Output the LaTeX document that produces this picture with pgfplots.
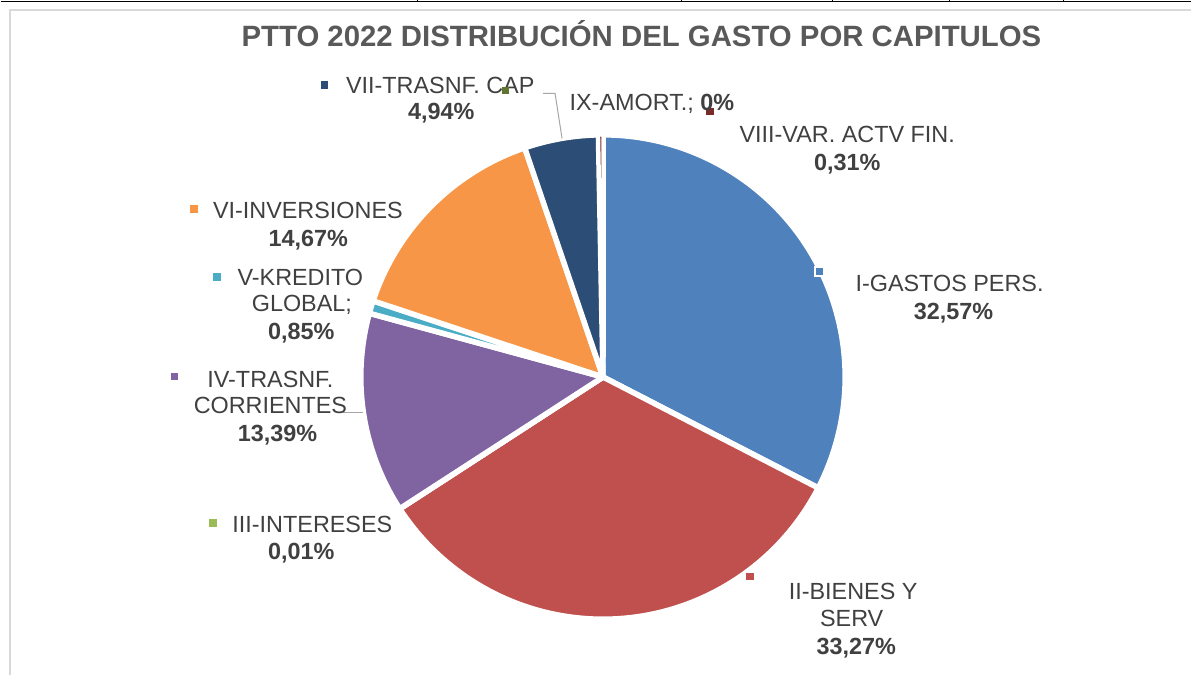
\documentclass[border=0pt]{standalone}
\usepackage{pgfplots}
\pgfplotsset{compat=1.18}
\usepackage{fontspec}
\setmainfont{Liberation Sans}
\definecolor{cI}{HTML}{4F81BD}
\definecolor{cII}{HTML}{C0504D}
\definecolor{cIII}{HTML}{9BBB59}
\definecolor{cIV}{HTML}{8064A2}
\definecolor{cV}{HTML}{4BACC6}
\definecolor{cVI}{HTML}{F79646}
\definecolor{cVII}{HTML}{2C4D75}
\definecolor{cVIII}{HTML}{772C2A}
\definecolor{cIX}{HTML}{5F7530}
\definecolor{txt}{HTML}{404040}
\definecolor{ttl}{HTML}{595959}
\definecolor{frame}{HTML}{D9D9D9}
% percentages per chapter
\def\pI{32.57}\def\pII{33.27}\def\pIII{0.01}\def\pIV{13.39}\def\pV{0.85}
\def\pVI{14.67}\def\pVII{4.94}\def\pVIII{0.31}\def\pIX{0}
\pgfmathsetmacro\aO{90}
\pgfmathsetmacro\aA{\aO-3.6*\pI}
\pgfmathsetmacro\aB{\aA-3.6*\pII}
\pgfmathsetmacro\aC{\aB-3.6*\pIII}
\pgfmathsetmacro\aD{\aC-3.6*\pIV}
\pgfmathsetmacro\aE{\aD-3.6*\pV}
\pgfmathsetmacro\aF{\aE-3.6*\pVI}
\pgfmathsetmacro\aG{\aF-3.6*\pVII}
\pgfmathsetmacro\aH{\aG-3.6*\pVIII}
\def\cx{603}\def\cy{377}\def\R{242.5}
\tikzset{lab/.style={font=\fontsize{23.5}{27}\selectfont, text=txt, inner sep=0pt, text height=16.8bp, text depth=0pt, anchor=center},
 blab/.style={lab, font=\fontsize{23.5}{27}\selectfont\bfseries},
 key/.style={inner sep=0pt, minimum size=7.5bp, anchor=center}}
\begin{document}
\begin{tikzpicture}
\begin{axis}[x=1bp, y=1bp, xmin=0, xmax=1192, ymin=0, ymax=675, y dir=reverse,
  hide axis, clip=false, scale only axis]
\path[fill=white] (axis cs:0,0) rectangle (axis cs:1192,675);
% frame and top line
\draw[frame, line width=1.5bp] (axis cs:9.5,675) -- (axis cs:9.5,9.5) -- (axis cs:1192,9.5);
\draw[black, line width=1.5bp] (axis cs:0,1) -- (axis cs:1192,1);
\draw[black, line width=1bp] (axis cs:417,0) -- (axis cs:417,2);
\draw[black, line width=1bp] (axis cs:682,0) -- (axis cs:682,2);
\draw[black, line width=1bp] (axis cs:833,0) -- (axis cs:833,2);
\draw[black, line width=1bp] (axis cs:950,0) -- (axis cs:950,2);
\draw[black, line width=1bp] (axis cs:1064,0) -- (axis cs:1064,2);
% slices
\pgfplotsset{slice/.style={draw=white, line width=5.5bp, line join=round, samples=80}}
\addplot[slice, fill=cI, domain=\aA:\aO] ({\cx+\R*cos(x)},{\cy-\R*sin(x)}) -- (axis cs:\cx,\cy) -- cycle;
\addplot[slice, fill=cII, domain=\aB:\aA] ({\cx+\R*cos(x)},{\cy-\R*sin(x)}) -- (axis cs:\cx,\cy) -- cycle;
\addplot[slice, fill=cIII, domain=\aC:\aB, samples=2] ({\cx+\R*cos(x)},{\cy-\R*sin(x)}) -- (axis cs:\cx,\cy) -- cycle;
\addplot[slice, fill=cIV, domain=\aD:\aC] ({\cx+\R*cos(x)},{\cy-\R*sin(x)}) -- (axis cs:\cx,\cy) -- cycle;
\addplot[slice, fill=cV, domain=\aE:\aD, samples=5] ({\cx+\R*cos(x)},{\cy-\R*sin(x)}) -- (axis cs:\cx,\cy) -- cycle;
\addplot[slice, fill=cVI, domain=\aF:\aE] ({\cx+\R*cos(x)},{\cy-\R*sin(x)}) -- (axis cs:\cx,\cy) -- cycle;
\addplot[slice, fill=cVII, domain=\aG:\aF, samples=20] ({\cx+\R*cos(x)},{\cy-\R*sin(x)}) -- (axis cs:\cx,\cy) -- cycle;
\addplot[slice, line width=3.5bp, fill=cVIII, domain=\aH:\aG, samples=3] ({\cx+\R*cos(x)},{\cy-\R*sin(x)}) -- (axis cs:\cx,\cy) -- cycle;
% title
\node[font=\fontsize{29.5}{34}\selectfont\bfseries, text=ttl, inner sep=0pt, text height=21bp, text depth=0pt] at (axis cs:641.5,36) {PTTO 2022 DISTRIBUCIÓN DEL GASTO POR CAPITULOS};
% leader lines
\draw[gray!70, line width=1bp] (axis cs:543,93) -- (axis cs:555,93) -- (axis cs:562,138);
\draw[gray!70, line width=1bp] (axis cs:343,413) -- (axis cs:363,413);
% VII
\node[key, fill=cVII] at (axis cs:324,84.5) {};
\node[lab] at (axis cs:440,85) {VII-TRASNF. CAP};
\node[blab] at (axis cs:441,111) {4,94\%};
\node[key, fill=cIX, minimum size=7bp] at (axis cs:505.5,90) {};
% VIII key then IX text
\node[key, fill=cVIII] at (axis cs:710,111) {};
\node[lab] at (axis cs:652,101.5) {IX-AMORT.; \textbf{0\%}};
% VIII
\node[lab] at (axis cs:847.5,134) {VIII-VAR. ACTV FIN.};
\node[blab] at (axis cs:847.5,162) {0,31\%};
% I
\node[key, fill=cI, draw=white, line width=1.5bp, minimum size=9bp] at (axis cs:820,271.5) {};
\node[lab] at (axis cs:950,283) {I-GASTOS PERS.};
\node[blab] at (axis cs:954,311) {32,57\%};
% II
\node[key, fill=cII] at (axis cs:750,576.5) {};
\node[lab] at (axis cs:853.5,591) {II-BIENES Y};
\node[lab] at (axis cs:852,618.5) {SERV};
\node[blab] at (axis cs:856.5,646.5) {33,27\%};
% III
\node[key, fill=cIII] at (axis cs:212.5,523) {};
\node[lab] at (axis cs:312,524.3) {III-INTERESES};
\node[blab] at (axis cs:301,551.5) {0,01\%};
% IV
\node[key, fill=cIV] at (axis cs:174,376.5) {};
\node[lab] at (axis cs:270,378.7) {IV-TRASNF.};
\node[lab] at (axis cs:270,405.5) {CORRIENTES};
\node[blab] at (axis cs:277,433) {13,39\%};
% V
\node[key, fill=cV] at (axis cs:216.5,277) {};
\node[lab] at (axis cs:300,277) {V-KREDITO};
\node[lab] at (axis cs:301.5,303) {GLOBAL;};
\node[blab] at (axis cs:301,331.5) {0,85\%};
% VI
\node[key, fill=cVI] at (axis cs:193.3,209) {};
\node[lab] at (axis cs:307.5,209.7) {VI-INVERSIONES};
\node[blab] at (axis cs:308,237.5) {14,67\%};
\end{axis}
\end{tikzpicture}
\end{document}
